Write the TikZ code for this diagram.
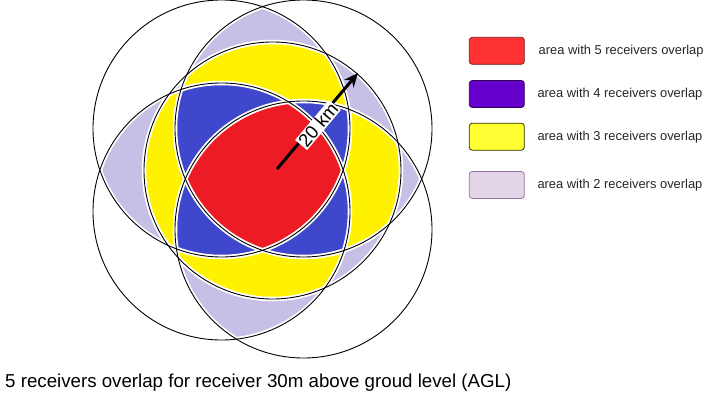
\documentclass[tikz,border=0pt]{standalone}
\usepackage{fontspec}
\setmainfont{Liberation Sans}
\usetikzlibrary{arrows.meta}
\definecolor{cRed}{RGB}{237,28,36}
\definecolor{cBlue}{RGB}{63,72,204}
\definecolor{cYel}{RGB}{255,242,0}
\definecolor{cLav}{RGB}{200,191,231}
\definecolor{lgRed}{HTML}{FF3333}
\definecolor{lgRedD}{HTML}{7A1A1A}
\definecolor{lgPur}{HTML}{6600CC}
\definecolor{lgPurD}{HTML}{2A0055}
\definecolor{lgYel}{HTML}{FFFF33}
\definecolor{lgYelD}{HTML}{333300}
\definecolor{lgLav}{HTML}{E1D5E7}
\definecolor{lgLavD}{HTML}{9673A6}
\newcommand\crad{128.5pt}
\begin{document}
\begin{tikzpicture}[x=1pt,y=-1pt,
  lgbox/.style={rounded corners=3pt, line width=0.8pt, minimum width=55pt, minimum height=27pt, inner sep=0pt},
  lgtext/.style={anchor=west, inner sep=0pt, font=\fontsize{12.9}{15}\selectfont, text=black!85},
  ring/.style={draw=black, line width=0.9pt},
  gap/.style={draw=white, line width=4.5pt}]
\useasboundingbox (0,0) rectangle (707,398);
\fill[white] (0,0) rectangle (707,398);
\coordinate (TL) at (221.5,128.5);
\coordinate (TR) at (303.5,128.5);
\coordinate (BL) at (221.5,211.5);
\coordinate (BR) at (303.5,229.5);
\coordinate (C) at (272.5,170.5);
% 2 overlaps
\foreach \pa/\pb in {TL/TR,TL/BL,TL/BR,TL/C,TR/BL,TR/BR,TR/C,BL/BR,BL/C,BR/C}{
  \begin{scope}\clip (\pa) circle[radius=\crad];
  \fill[cLav] (\pb) circle[radius=\crad];\end{scope}}
% 3 overlaps
\foreach \pa/\pb/\pc in {TL/TR/BL,TL/TR/BR,TL/TR/C,TL/BL/BR,TL/BL/C,TL/BR/C,TR/BL/BR,TR/BL/C,TR/BR/C,BL/BR/C}{
  \begin{scope}\clip (\pa) circle[radius=\crad];\clip (\pb) circle[radius=\crad];
  \fill[cYel] (\pc) circle[radius=\crad];\end{scope}}
% 4 overlaps
\foreach \pa/\pb/\pc/\pd in {TR/BL/BR/C,TL/BL/BR/C,TL/TR/BR/C,TL/TR/BL/C,TL/TR/BL/BR}{
  \begin{scope}\clip (\pa) circle[radius=\crad];\clip (\pb) circle[radius=\crad];\clip (\pc) circle[radius=\crad];
  \fill[cBlue] (\pd) circle[radius=\crad];\end{scope}}
% 5 overlaps
\begin{scope}
  \clip (TL) circle[radius=\crad];\clip (TR) circle[radius=\crad];\clip (BL) circle[radius=\crad];\clip (BR) circle[radius=\crad];
  \fill[cRed] (C) circle[radius=\crad];
\end{scope}
\foreach \n in {TL,TR,BL,BR,C}{\draw[gap] (\n) circle[radius=\crad];}
\foreach \n in {TL,TR,BL,BR,C}{\draw[ring] (\n) circle[radius=\crad];}
% radius arrow
\coordinate (aS) at (277,169);
\coordinate (aE) at (358,73);
\draw[line width=3pt, -{Stealth[length=14pt,width=12pt]}] (aS) -- (aE);
\node[fill=white, inner sep=1pt, rotate=49.8, font=\fontsize{18.5}{20}\selectfont] (km) at (318,125) {20 km};
% legend
\node[lgbox, fill=lgRed, draw=lgRedD] (b5) at (496.8,50.8) {};
\node[lgbox, fill=lgPur, draw=lgPurD] (b4) at (496.8,94) {};
\node[lgbox, fill=lgYel, draw=lgYelD] (b3) at (496.8,136.7) {};
\node[lgbox, fill=lgLav, draw=lgLavD] (b2) at (496.8,185) {};
\node[lgtext] (t5) at (538.5,51.5) {area with 5 receivers overlap};
\node[lgtext] (t4) at (537.3,94.5) {area with 4 receivers overlap};
\node[lgtext] (t3) at (537.3,137.2) {area with 3 receivers overlap};
\node[lgtext] (t2) at (537.3,185.5) {area with 2 receivers overlap};
% caption
\node[anchor=base west, inner sep=0pt, font=\fontsize{18.7}{22}\selectfont] (cap) at (5,387) {5 receivers overlap for receiver 30m above groud level (AGL)};
\end{tikzpicture}
\end{document}
